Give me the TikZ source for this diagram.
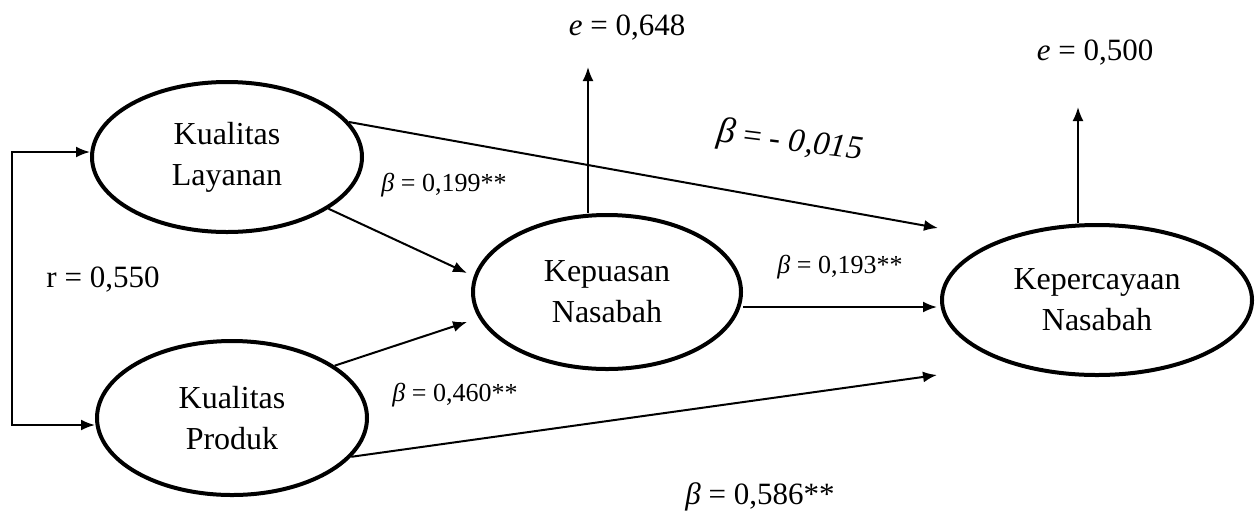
\documentclass[tikz,border=0pt]{standalone}
\usepackage{fontspec}
\setmainfont{Liberation Serif}
\usetikzlibrary{arrows.meta,shapes.geometric}
\begin{document}
\begin{tikzpicture}[x=0.5pt,y=-0.5pt,
 latent/.style={ellipse,draw,line width=2pt,inner sep=0pt,align=center,font=\fontsize{16}{20.5}\selectfont},
 arr/.style={line width=1pt,-{Latex[length=7pt,width=5.5pt]}},
 darr/.style={line width=1pt,{Latex[length=7pt,width=5.5pt]}-{Latex[length=7pt,width=5.5pt]}},
 lab/.style={inner sep=0pt,font=\fontsize{13}{15}\selectfont},
 biglab/.style={inner sep=0pt,font=\fontsize{15.5}{18}\selectfont}]
\useasboundingbox (0,0) rectangle (1256,515);
% latent variables
\node[latent,minimum width=135pt,minimum height=75pt] (KL) at (227,157) {Kualitas\\Layanan};
\node[latent,minimum width=135pt,minimum height=77pt] (KP) at (232,418) {Kualitas\\Produk};
\node[latent,minimum width=134pt,minimum height=77pt] (KN) at (607,292) {Kepuasan\\Nasabah};
\node[latent,minimum width=155pt,minimum height=75pt] (KC) at (1097,300) {Kepercayaan\\Nasabah};
% free ends
\coordinate (t1) at (938,228);
\coordinate (t2) at (467,273);
\coordinate (t3) at (467,322);
\coordinate (t4) at (937,307);
\coordinate (t5) at (937,375);
\coordinate (e1) at (588,67);
\coordinate (e2) at (1078,107);
\coordinate (b1) at (12,152);
\coordinate (b2) at (12,425);
% connectors
\draw[arr] (KL.16) -- (t1);
\draw[arr] (KL.-27) -- (t2);
\draw[arr] (KP.27) -- (t3);
\draw[arr] (KP.-18) -- (t5);
\draw[arr] (KN.east |- t4) -- (t4);
\draw[arr] (e1 |- KN.north) -- (e1);
\draw[arr] (e2 |- KC.north) -- (e2);
\draw[darr] (KL.west |- b1) -- (b1) -- (b2) -- (KP.west |- b2);
% labels
\node[biglab] (E1) at (627,28) {\textit{e} = 0,648};
\node[biglab] (E2) at (1095,53) {\textit{e} = 0,500};
\node[biglab] (R) at (103,280) {r = 0,550};
\node[lab] (B1) at (444,185) {\textit{β} = 0,199**};
\node[lab] (B2) at (840,267) {\textit{β} = 0,193**};
\node[lab] (B3) at (455,395) {\textit{β} = 0,460**};
\node[biglab] (B4) at (760,497) {\textit{β} = 0,586**};
\node[inner sep=0pt,rotate=-7,font=\fontsize{16.5}{18}\selectfont] (B5) at (790,142) {{\fontsize{18}{18}\selectfont\textit{β}} = - \textit{0,015}};
\end{tikzpicture}
\end{document}
